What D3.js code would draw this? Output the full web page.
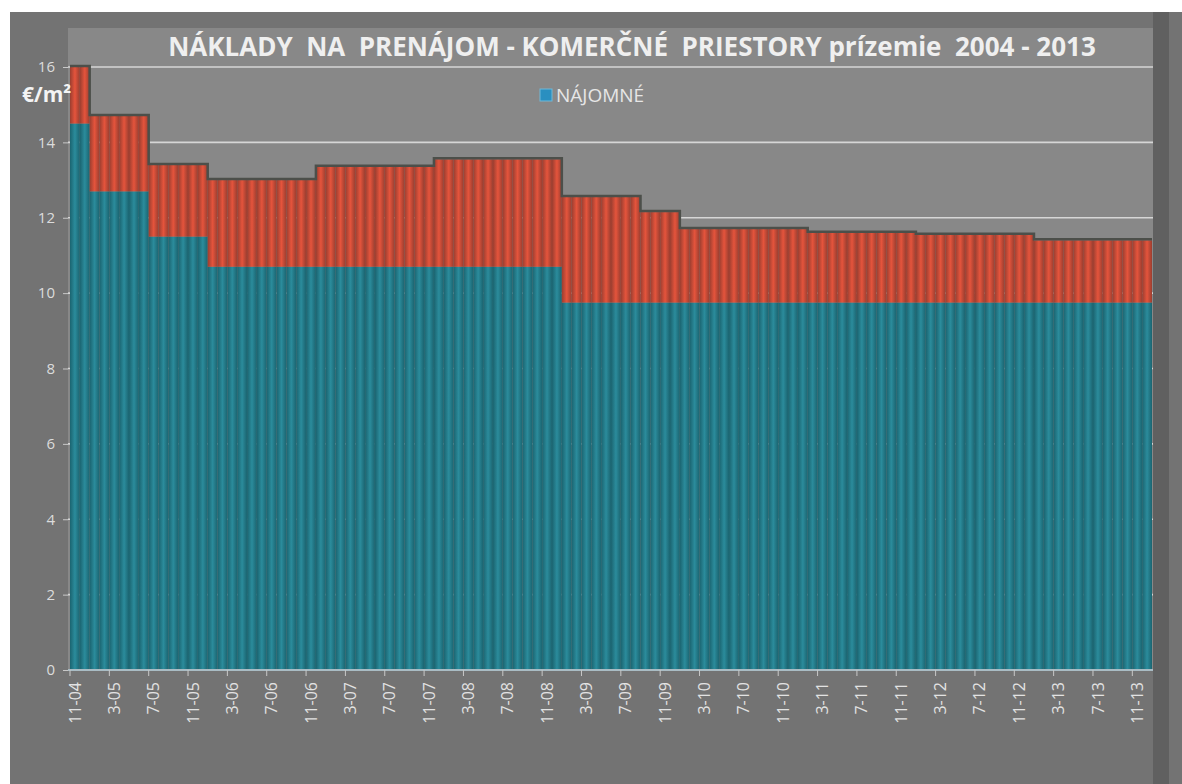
<!DOCTYPE html>
<html lang="sk">
  <head>
    <meta charset="UTF-8" />
    <title>Náklady na prenájom</title>
    <style>
      body { margin: 0; background: #fff; }
      text { font-family: "Open Sans", "Noto Sans", sans-serif; }
    </style>
  </head>
  <body>
    <svg id="svg" width="1182" height="784"></svg>

    <script src="https://d3js.org/d3.v7.min.js"></script>
    <script>
      // mesiace 11-04 .. 12-13
      const months = [
        "11-04", "12-04",
        "1-05", "2-05", "3-05", "4-05", "5-05", "6-05", "7-05", "8-05", "9-05", "10-05", "11-05", "12-05",
        "1-06", "2-06", "3-06", "4-06", "5-06", "6-06", "7-06", "8-06", "9-06", "10-06", "11-06", "12-06",
        "1-07", "2-07", "3-07", "4-07", "5-07", "6-07", "7-07", "8-07", "9-07", "10-07", "11-07", "12-07",
        "1-08", "2-08", "3-08", "4-08", "5-08", "6-08", "7-08", "8-08", "9-08", "10-08", "11-08", "12-08",
        "1-09", "2-09", "3-09", "4-09", "5-09", "6-09", "7-09", "8-09", "9-09", "10-09", "11-09", "12-09",
        "1-10", "2-10", "3-10", "4-10", "5-10", "6-10", "7-10", "8-10", "9-10", "10-10", "11-10", "12-10",
        "1-11", "2-11", "3-11", "4-11", "5-11", "6-11", "7-11", "8-11", "9-11", "10-11", "11-11", "12-11",
        "1-12", "2-12", "3-12", "4-12", "5-12", "6-12", "7-12", "8-12", "9-12", "10-12", "11-12", "12-12",
        "1-13", "2-13", "3-13", "4-13", "5-13", "6-13", "7-13", "8-13", "9-13", "10-13", "11-13", "12-13"
      ];

      // nájomné €/m2
      const najomne = [
        14.5, 14.5,
        12.7, 12.7, 12.7, 12.7, 12.7, 12.7, 11.5, 11.5, 11.5, 11.5, 11.5, 11.5,
        10.7, 10.7, 10.7, 10.7, 10.7, 10.7, 10.7, 10.7, 10.7, 10.7, 10.7, 10.7,
        10.7, 10.7, 10.7, 10.7, 10.7, 10.7, 10.7, 10.7, 10.7, 10.7, 10.7, 10.7,
        10.7, 10.7, 10.7, 10.7, 10.7, 10.7, 10.7, 10.7, 10.7, 10.7, 10.7, 10.7,
        9.75, 9.75, 9.75, 9.75, 9.75, 9.75, 9.75, 9.75, 9.75, 9.75, 9.75, 9.75,
        9.75, 9.75, 9.75, 9.75, 9.75, 9.75, 9.75, 9.75, 9.75, 9.75, 9.75, 9.75,
        9.75, 9.75, 9.75, 9.75, 9.75, 9.75, 9.75, 9.75, 9.75, 9.75, 9.75, 9.75,
        9.75, 9.75, 9.75, 9.75, 9.75, 9.75, 9.75, 9.75, 9.75, 9.75, 9.75, 9.75,
        9.75, 9.75, 9.75, 9.75, 9.75, 9.75, 9.75, 9.75, 9.75, 9.75, 9.75, 9.75
      ];

      // druhá (červená) časť nad nájomným
      const sluzby = [
        1.5, 1.5,
        2.0, 2.0, 2.0, 2.0, 2.0, 2.0, 1.9, 1.9, 1.9, 1.9, 1.9, 1.9,
        2.3, 2.3, 2.3, 2.3, 2.3, 2.3, 2.3, 2.3, 2.3, 2.3, 2.3, 2.65,
        2.65, 2.65, 2.65, 2.65, 2.65, 2.65, 2.65, 2.65, 2.65, 2.65, 2.65, 2.85,
        2.85, 2.85, 2.85, 2.85, 2.85, 2.85, 2.85, 2.85, 2.85, 2.85, 2.85, 2.85,
        2.8, 2.8, 2.8, 2.8, 2.8, 2.8, 2.8, 2.8, 2.4, 2.4, 2.4, 2.4,
        1.95, 1.95, 1.95, 1.95, 1.95, 1.95, 1.95, 1.95, 1.95, 1.95, 1.95, 1.95,
        1.95, 1.85, 1.85, 1.85, 1.85, 1.85, 1.85, 1.85, 1.85, 1.85, 1.85, 1.85,
        1.8, 1.8, 1.8, 1.8, 1.8, 1.8, 1.8, 1.8, 1.8, 1.8, 1.8, 1.8,
        1.65, 1.65, 1.65, 1.65, 1.65, 1.65, 1.65, 1.65, 1.65, 1.65, 1.65, 1.65
      ];

      const yTicks = [0, 2, 4, 6, 8, 10, 12, 14, 16];
      const labelEvery = 4;

      const data = months.map((m, i) => ({ m: m, n: najomne[i], s: sluzby[i] }));

      const svg = d3.select("#svg");

      const xScale = d3.scaleBand().domain(months).range([70, 1152]).padding(0);
      const yScale = d3.scaleLinear().domain([0, 16]).range([670, 67]);
      const bw = xScale.bandwidth();

      // gradienty pre pruhovaný vzhľad stĺpcov
      const defs = svg.append("defs");
      const grad = (id, edge, mid) => {
        const g = defs.append("linearGradient").attr("id", id)
          .attr("x1", "0").attr("x2", "1").attr("y1", "0").attr("y2", "0");
        g.append("stop").attr("offset", "0%").attr("stop-color", edge);
        g.append("stop").attr("offset", "50%").attr("stop-color", mid);
        g.append("stop").attr("offset", "100%").attr("stop-color", edge);
      };
      grad("gBlue", "#1b6470", "#2b8c9c");
      grad("gRed", "#9a3e30", "#e5543c");

      // pozadie
      svg.append("rect").attr("x", 10).attr("y", 12).attr("width", 1172).attr("height", 772)
        .attr("fill", "#737373");
      svg.append("rect").attr("x", 1153).attr("y", 12).attr("width", 16).attr("height", 772)
        .attr("fill", "#606060");
      svg.append("rect").attr("x", 68).attr("y", 28).attr("width", 1085).attr("height", 642)
        .attr("fill", "#888888");

      // mriežka
      svg.append("g")
        .selectAll("line")
        .data(yTicks.filter((d) => d > 0))
        .enter()
        .append("line")
        .attr("x1", 68)
        .attr("x2", 1153)
        .attr("y1", (d) => yScale(d))
        .attr("y2", (d) => yScale(d))
        .attr("stroke", "#d6d6d6")
        .attr("stroke-width", 1.6);

      // stĺpce - nájomné
      svg.append("g")
        .selectAll("rect")
        .data(data)
        .enter()
        .append("rect")
        .attr("x", (d) => xScale(d.m))
        .attr("width", bw)
        .attr("y", (d) => yScale(d.n))
        .attr("height", (d) => yScale(0) - yScale(d.n))
        .attr("fill", "url(#gBlue)");

      // stĺpce - horná časť
      svg.append("g")
        .selectAll("rect")
        .data(data)
        .enter()
        .append("rect")
        .attr("x", (d) => xScale(d.m))
        .attr("width", bw)
        .attr("y", (d) => yScale(d.n + d.s))
        .attr("height", (d) => yScale(d.n) - yScale(d.n + d.s))
        .attr("fill", "url(#gRed)");

      // tmavý tieň na vrchu stĺpcov
      const topLine = d3.line()
        .x((d) => d[0])
        .y((d) => d[1]);
      const pts = [];
      data.forEach((d) => {
        const yy = yScale(d.n + d.s) - 1;
        pts.push([xScale(d.m), yy], [xScale(d.m) + bw, yy]);
      });
      svg.append("path")
        .attr("d", topLine(pts))
        .attr("fill", "none")
        .attr("stroke", "#4c4f4a")
        .attr("stroke-width", 2.5);

      // os y
      const yAxis = svg.append("g")
        .attr("transform", "translate(68,0)")
        .call(d3.axisLeft(yScale).tickValues(yTicks).tickSize(5).tickPadding(8));
      yAxis.select(".domain").remove();
      yAxis.selectAll(".tick line").attr("stroke", "#c8c8c8");
      yAxis.selectAll(".tick text")
        .attr("fill", "#dcdcdc")
        .style("font-size", "15px");

      // os x
      svg.append("line")
        .attr("x1", 68).attr("x2", 1153)
        .attr("y1", yScale(0)).attr("y2", yScale(0))
        .attr("stroke", "#a9bcc4").attr("stroke-width", 2);

      const xAxis = svg.append("g")
        .attr("transform", `translate(0,${yScale(0)})`)
        .call(
          d3.axisBottom(xScale)
            .tickValues(months.filter((d, i) => i % labelEvery === 0))
            .tickSize(6)
        );
      xAxis.select(".domain").remove();
      xAxis.selectAll(".tick line")
        .attr("x1", -bw / 2).attr("x2", -bw / 2)
        .attr("stroke", "#c8c8c8");
      xAxis.selectAll(".tick text")
        .attr("fill", "#e2e2e2")
        .style("font-size", "16px")
        .attr("transform", "rotate(-90)")
        .attr("text-anchor", "end")
        .attr("x", -12)
        .attr("y", 0)
        .attr("dy", "0.35em");

      // nadpis
      svg.append("text")
        .attr("x", 632)
        .attr("y", 56)
        .attr("text-anchor", "middle")
        .attr("fill", "#efefef")
        .style("font-size", "26px")
        .style("font-weight", "bold")
        .style("white-space", "pre")
        .text("NÁKLADY  NA  PRENÁJOM - KOMERČNÉ  PRIESTORY prízemie  2004 - 2013");

      // jednotka
      svg.append("text")
        .attr("x", 22)
        .attr("y", 102)
        .attr("fill", "#f4f4f4")
        .style("font-size", "21px")
        .style("font-weight", "bold")
        .text("€/m²");

      // legenda
      svg.append("rect")
        .attr("x", 540).attr("y", 89).attr("width", 12).attr("height", 12)
        .attr("fill", "#2a8fc0").attr("stroke", "#6fb8d8");
      svg.append("text")
        .attr("x", 556).attr("y", 102)
        .attr("fill", "#e6e6e6")
        .style("font-size", "19px")
        .text("NÁJOMNÉ");
    </script>
  </body>
</html>
